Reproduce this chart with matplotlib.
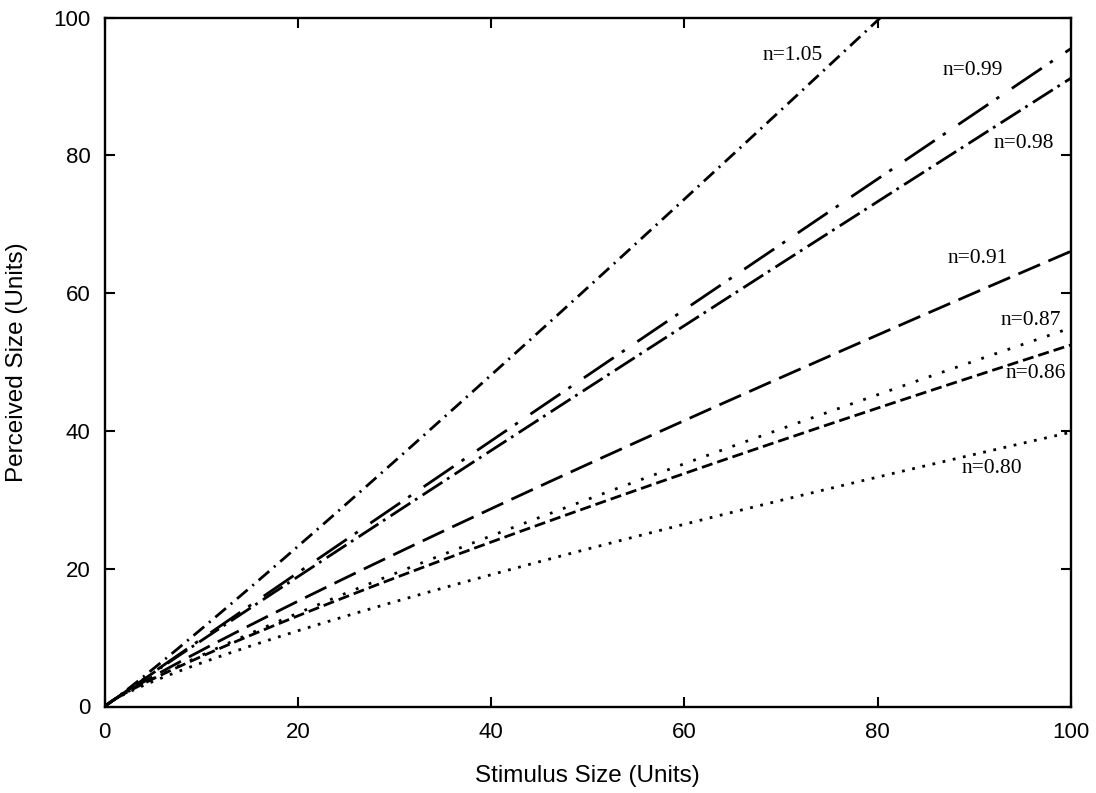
import numpy as np
import matplotlib
matplotlib.use("Agg")
import matplotlib.pyplot as plt

# Power-law exponents of the psychophysical curves (perceived = stimulus ** n)
exponents = [1.05, 0.99, 0.98, 0.91, 0.87, 0.86, 0.80]
curve_labels = ["n=1.05", "n=0.99", "n=0.98", "n=0.91", "n=0.87", "n=0.86", "n=0.80"]
x_ticks = [0, 20, 40, 60, 80, 100]
y_ticks = [0, 20, 40, 60, 80, 100]

# Dash patterns (in points) and label anchor positions for each curve
dash_patterns = [
    (0, (10, 4.5, 1.5, 4.5)),     # short dash-dot
    (0, (26, 7, 2.5, 11)),        # long dash-dot
    (0, (17, 4, 2, 4.5)),         # medium dash-dot
    (0, (17, 6.5)),               # long dash
    (0, (2, 8)),                  # sparse dots
    (0, (8, 3.6)),                # short dash
    (0, (2, 5.5)),                # dense dots
]
label_xy = [(71.2, 94.5), (89.8, 92.3), (95.1, 81.7), (90.3, 65.0),
            (95.8, 56.0), (96.4, 48.4), (91.8, 34.6)]

plt.rcParams["lines.scale_dashes"] = False

fig = plt.figure(figsize=(10.96, 7.93), dpi=100)
ax = fig.add_axes([104.5 / 1096, 1 - 706.5 / 793, (1071 - 104.5) / 1096, (706.5 - 17.5) / 793])

stim = np.linspace(0, 100, 800)
for n, ls in zip(exponents, dash_patterns):
    ax.plot(stim, stim ** n, color="black", linewidth=2.0, linestyle=ls,
            dash_capstyle="butt")

for text, (lx, ly) in zip(curve_labels, label_xy):
    ax.text(lx, ly, text, ha="center", va="center",
            fontfamily="Liberation Serif", fontsize=15.5, color="black")

ax.set_xlim(0, 100)
ax.set_ylim(0, 100)
ax.set_xticks(x_ticks)
ax.set_yticks(y_ticks)
ax.tick_params(direction="in", length=7, width=1.5, top=True, right=True,
               labelsize=16, colors="black")
ax.tick_params(axis="x", pad=11)
ax.tick_params(axis="y", pad=10)
for lab in ax.get_xticklabels() + ax.get_yticklabels():
    lab.set_fontfamily("Liberation Sans")
for sp in ax.spines.values():
    sp.set_linewidth(1.7)

ax.set_xlabel("Stimulus Size (Units)", fontfamily="Liberation Sans", fontsize=17.5, labelpad=16)
ax.set_ylabel("Perceived Size (Units)", fontfamily="Liberation Sans", fontsize=17.5, labelpad=18)

fig.savefig("out.png", dpi=100)
